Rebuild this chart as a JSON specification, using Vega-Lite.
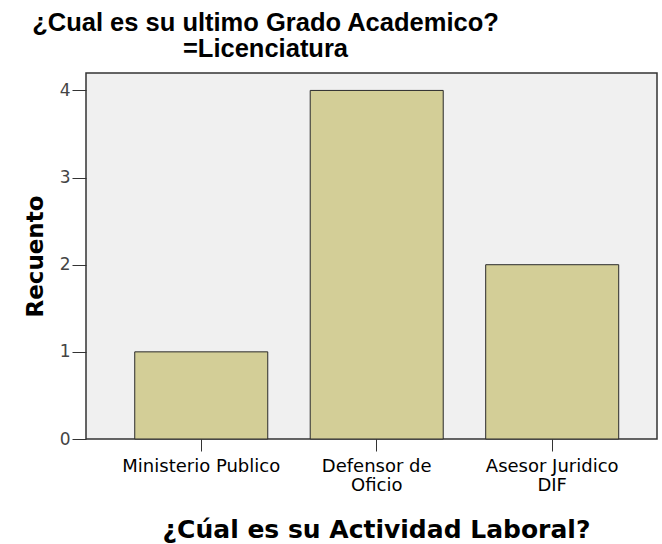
{
  "$schema": "https://vega.github.io/schema/vega-lite/v6.json",
  "autosize": "none",
  "width": 571,
  "height": 366,
  "padding": {"left": 86, "top": 73, "right": 5, "bottom": 105},
  "background": "white",
  "title": {
    "text": ["¿Cual es su ultimo Grado Academico?", "=Licenciatura"],
    "anchor": "middle",
    "frame": "group",
    "dx": -106,
    "offset": 11,
    "font": "Liberation Sans",
    "fontSize": 25.5,
    "fontWeight": "bold",
    "lineHeight": 26,
    "color": "#000000"
  },
  "data": {
    "values": [
      {"actividad": "Ministerio Publico", "recuento": 1},
      {"actividad": "Defensor de|Oficio", "recuento": 4},
      {"actividad": "Asesor Juridico|DIF", "recuento": 2}
    ]
  },
  "config": {
    "view": {"fill": "#F0F0F0", "stroke": "#333333", "strokeWidth": 1.5}
  },
  "mark": {"type": "bar", "color": "#D3CE97", "stroke": "#2a2a2a", "strokeWidth": 1},
  "encoding": {
    "x": {
      "field": "actividad",
      "type": "nominal",
      "sort": null,
      "scale": {"paddingInner": 0.242, "paddingOuter": 0.248, "align": 0.56},
      "axis": {
        "title": "¿Cúal es su Actividad Laboral?",
        "titleFont": "DejaVu Sans",
        "titleFontSize": 25,
        "titleFontWeight": "bold",
        "titleColor": "#000000",
        "titleX": 290,
        "titleY": 98,
        "titleBaseline": "alphabetic",
        "labelExpr": "split(datum.label, '|')",
        "labelAngle": 0,
        "labelFont": "DejaVu Sans",
        "labelFontSize": 18,
        "labelColor": "#000000",
        "labelLineHeight": 19,
        "labelPadding": 6,
        "tickSize": 12,
        "tickColor": "#333333",
        "domain": false,
        "grid": false
      }
    },
    "y": {
      "field": "recuento",
      "type": "quantitative",
      "scale": {"domain": [0, 4.2], "nice": false},
      "axis": {
        "title": "Recuento",
        "titleFont": "DejaVu Sans",
        "titleFontSize": 23,
        "titleFontWeight": "bold",
        "titleColor": "#000000",
        "titlePadding": 12,
        "values": [0, 1, 2, 3, 4],
        "labelFont": "DejaVu Sans",
        "labelFontSize": 17,
        "labelColor": "#444444",
        "labelPadding": 2,
        "tickSize": 14,
        "tickColor": "#333333",
        "domain": false,
        "grid": false
      }
    }
  }
}
